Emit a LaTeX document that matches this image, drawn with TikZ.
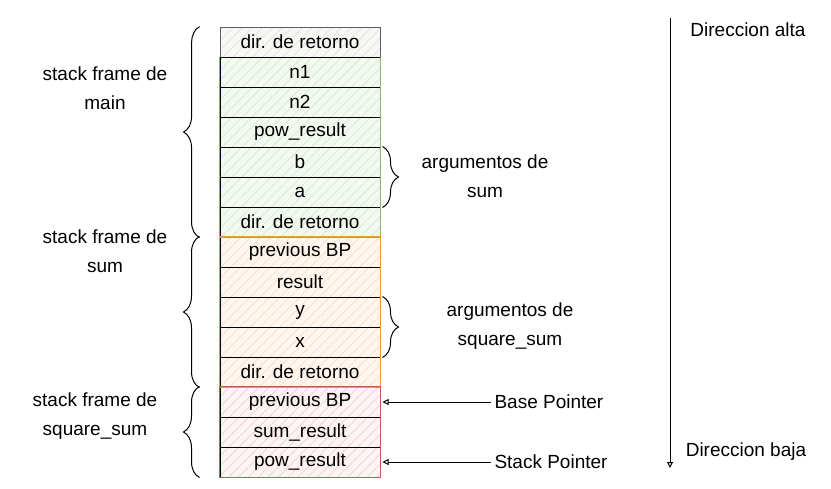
\documentclass[tikz,border=0pt]{standalone}
\usepackage{fontspec}
\setmainfont{Liberation Sans}
\usetikzlibrary{arrows.meta,decorations.pathreplacing,patterns.meta}
\definecolor{grayline}{HTML}{5E5E5E}
\definecolor{grayfill}{HTML}{F7F8F6}
\definecolor{grayhatch}{HTML}{DDE6DA}
\definecolor{greenline}{HTML}{7DBB6B}
\definecolor{greenfill}{HTML}{F3F9F1}
\definecolor{greenhatch}{HTML}{D3EBCC}
\definecolor{orangeline}{HTML}{E59F2E}
\definecolor{orangefill}{HTML}{FFF7EF}
\definecolor{orangehatch}{HTML}{F9DCC4}
\definecolor{redline}{HTML}{C45A5A}
\definecolor{redfill}{HTML}{FDF4F4}
\definecolor{redhatch}{HTML}{F2CFCF}

\begin{document}
\begin{tikzpicture}[x=1pt,y=-1pt,
  every node/.style={font=\fontsize{19}{29}\selectfont},
  cell/.style={draw=black,line width=1pt,minimum width=160pt,minimum height=30pt,inner sep=0pt,
    pattern={Lines[angle=45,distance=7pt,line width=0.7pt]}},
  topcell/.style={cell,draw=grayline,preaction={fill=grayfill},pattern color=grayhatch},
  greencell/.style={cell,preaction={fill=greenfill},pattern color=greenhatch},
  orangecell/.style={cell,preaction={fill=orangefill},pattern color=orangehatch},
  redcell/.style={cell,preaction={fill=redfill},pattern color=redhatch},
  lbrace/.style={decorate,decoration={brace,amplitude=16pt},line width=1pt},
  ptr/.style={-{Triangle[open,length=6pt,width=6pt]},line width=1pt}]
\useasboundingbox (0,0) rectangle (831,488);

\node[topcell] (ret1) at (300,42) {dir. de retorno};
\node[greencell] (n1) at (300,72) {n1};
\node[greencell] (n2) at (300,102) {n2};
\node[greencell] (pow1) at (300,132) {pow\_result};
\node[greencell] (argb) at (300,162) {b};
\node[greencell] (arga) at (300,192) {a};
\node[greencell] (ret2) at (300,222) {dir. de retorno};
\node[orangecell] (bp1) at (300,252) {previous BP};
\node[orangecell] (res) at (300,282) {result};
\node[orangecell] (argy) at (300,312) {y};
\node[orangecell] (argx) at (300,342) {x};
\node[orangecell] (ret3) at (300,372) {dir. de retorno};
\node[redcell] (bp2) at (300,402) {previous BP};
\node[redcell] (sumres) at (300,432) {sum\_result};
\node[redcell] (pow2) at (300,462) {pow\_result};

\draw[greenline,line width=1.2pt] (n1.north west) -- (ret2.south west) -- (ret2.south east) -- (n1.north east);
\draw[orangeline,line width=1.2pt] (bp1.north west) rectangle (ret3.south east);
\draw[redline,line width=1.2pt] (bp2.north west) rectangle (pow2.south east);

\draw[lbrace] ([xshift=-20pt]ret2.south west) -- ([xshift=-20pt]ret1.north west);
\draw[lbrace] ([xshift=-20pt]ret3.south west) -- ([xshift=-20pt]bp1.north west);
\draw[lbrace] ([xshift=-20pt]pow2.south west) -- ([xshift=-20pt]bp2.north west);
\draw[lbrace] ([xshift=2pt]argb.north east) -- ([xshift=2pt]arga.south east);
\draw[lbrace] ([xshift=2pt]argy.north east) -- ([xshift=2pt]argx.south east);

\node[align=center] (mainlbl) at (105,88) {stack frame de\\main};
\node[align=center] (sumlbl) at (105,251) {stack frame de\\sum};
\node[align=center] (sqlbl) at (95,416) {stack frame de\\square\_sum};
\node[align=center] (argsum) at (485,176) {argumentos de\\sum};
\node[align=center] (argsq) at (510,326) {argumentos de\\square\_sum};

\node[anchor=west] (basept) at (491,402) {Base Pointer};
\node[anchor=west] (stackpt) at (491,462) {Stack Pointer};
\draw[ptr,shorten >=2pt] (basept.west) -- (bp2.east);
\draw[ptr,shorten >=2pt] (stackpt.west) -- (pow2.east);

\coordinate (hi) at (670,18);
\coordinate (lo) at (670,468);
\draw[ptr] (hi) -- (lo);
\node (altalbl) at (748,30) {Direccion alta};
\node (bajalbl) at (746,452) {Direccion baja};
\end{tikzpicture}
\end{document}
